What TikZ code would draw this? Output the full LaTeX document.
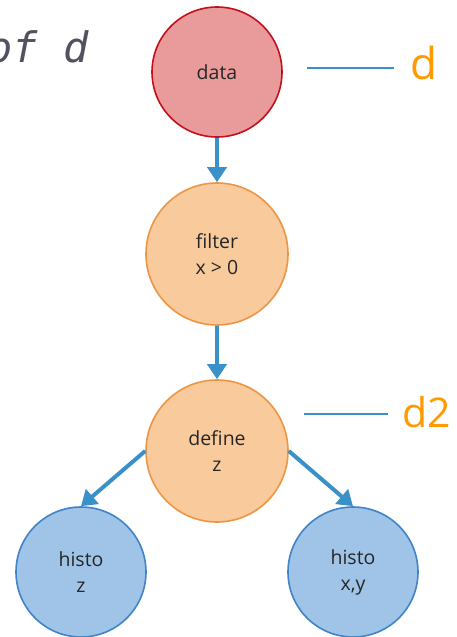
\documentclass[tikz,border=0pt]{standalone}
\usepackage{fontspec}
\setmainfont{Open Sans}
\newfontfamily\codefont{DejaVu Sans Mono}
\usepackage{tikz}
\usetikzlibrary{arrows.meta,positioning}
\usepackage{xcolor}

\definecolor{rojo}{HTML}{E99A9A}
\definecolor{rojoborde}{HTML}{C3101C}
\definecolor{naranja}{HTML}{F8CA9C}
\definecolor{naranjaborde}{HTML}{EC9644}
\definecolor{azul}{HTML}{A0C4E8}
\definecolor{azulborde}{HTML}{3F84C6}
\definecolor{flecha}{HTML}{3A90C8}
\definecolor{etiqueta}{HTML}{FF9A00}
\definecolor{gris}{HTML}{55505F}

\begin{document}
\begin{tikzpicture}[x=1pt, y=-1pt,
    nodo/.style={circle, draw, line width=1.6pt, inner sep=0pt, align=center,
      font=\fontsize{19.5}{26}\selectfont, text=black!85},
    fuente/.style={nodo, minimum size=130pt, fill=rojo, draw=rojoborde},
    paso/.style={nodo, minimum size=142pt, fill=naranja, draw=naranjaborde},
    histo/.style={nodo, minimum size=130pt, fill=azul, draw=azulborde},
    flujo/.style={-{Triangle[width=19pt,length=15pt]}, line width=4pt, draw=flecha},
    marca/.style={line width=2pt, draw=flecha},
    nombre/.style={text=etiqueta, inner sep=0pt, anchor=base west}]
  \useasboundingbox (0,0) rectangle (456,637);

  \node[anchor=base west, inner sep=0pt, text=gris,
    font=\codefont\itshape\fontsize{42}{42}\selectfont] (titulo) at (-13,62) {of d};

  \node[fuente] (data) at (217,72) {data};
  \node[paso] (filter) at (217,254) {filter\\x > 0};
  \node[paso] (define) at (217,451) {define\\z};
  \node[histo] (hz) at (81,572) {histo\\z};
  \node[histo] (hxy) at (353,572) {histo\\x,y};

  % flujo de datos
  \draw[flujo] (data) -- (filter);
  \draw[flujo] (filter) -- (define);
  \draw[flujo] (define.west) -- (hz.north);
  \draw[flujo] (define.east) -- (hxy.north);

  % nombres de los nodos
  \node[nombre, font=\fontsize{44}{44}\selectfont] (nd) at (410,79) {d};
  \node[nombre, font=\fontsize{41}{41}\selectfont] (nd2) at (402,427) {d2};
  \coordinate (dA) at (307,68);
  \coordinate (dB) at (394,68);
  \coordinate (d2A) at (304,414);
  \coordinate (d2B) at (388,414);
  \draw[marca] (dA) -- (dB);
  \draw[marca] (d2A) -- (d2B);
\end{tikzpicture}
\end{document}
